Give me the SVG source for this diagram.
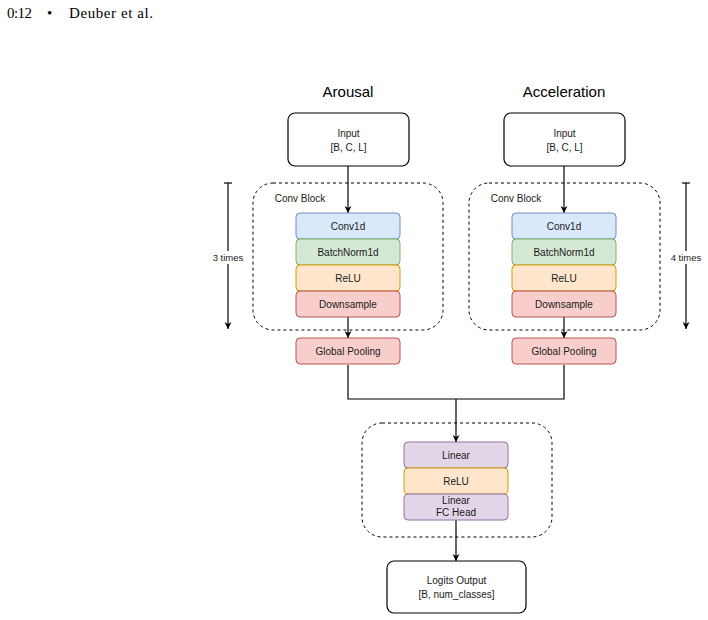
<svg xmlns="http://www.w3.org/2000/svg" width="708" height="620" viewBox="0 0 708 620">
<defs>
<style>
.t{font-family:"Liberation Sans",Arial,sans-serif;font-size:10px;fill:#1a1a1a;text-anchor:middle}
.title{font-family:"Liberation Sans",Arial,sans-serif;font-size:15px;fill:#000;text-anchor:middle}
.hdr{font-family:"Liberation Serif","Times New Roman",serif;font-size:15px;fill:#000}
.io{fill:#fff;stroke:#000;stroke-width:1.2}
.dash{fill:none;stroke:#000;stroke-width:1;stroke-dasharray:3,3}
.blue{fill:#dae8fc;stroke:#6c8ebf}
.green{fill:#d5e8d4;stroke:#82b366}
.orange{fill:#ffe6cc;stroke:#d79b00}
.red{fill:#f8cecc;stroke:#b85450}
.purple{fill:#e1d5e7;stroke:#9673a6}
.ln{fill:none;stroke:#000;stroke-width:1.2}
</style>
<marker id="arr" viewBox="0 0 10 10" refX="10" refY="5" markerWidth="7" markerHeight="7" markerUnits="userSpaceOnUse" orient="auto">
<path d="M0,0 L10,5 L0,10 L3,5 Z" fill="#000"/>
</marker>
</defs>
<rect width="708" height="620" fill="#fff"/>
<g id="header">
<text class="hdr" x="7" y="18" textLength="25">0:12</text>
<text class="hdr" x="47" y="18">•</text>
<text class="hdr" x="69" y="18" textLength="84">Deuber et al.</text>
</g>
<g id="titles">
<text class="title" x="348" y="97">Arousal</text>
<text class="title" x="564" y="97">Acceleration</text>
</g>
<g id="convblock-left">
<rect class="dash" x="253" y="183" width="190" height="147" rx="20"/>
<text class="t" x="300" y="202">Conv Block</text>
</g>
<g id="convblock-right">
<rect class="dash" x="469" y="183" width="191" height="147" rx="20"/>
<text class="t" x="516" y="202">Conv Block</text>
</g>
<g id="fc-block">
<rect class="dash" x="362" y="423" width="190" height="114" rx="20"/>
</g>
<g id="connectors">
<line class="ln" x1="348" y1="166" x2="348" y2="213" marker-end="url(#arr)"/>
<line class="ln" x1="564" y1="166" x2="564" y2="213" marker-end="url(#arr)"/>
<line class="ln" x1="348" y1="317" x2="348" y2="338" marker-end="url(#arr)"/>
<line class="ln" x1="564" y1="317" x2="564" y2="338" marker-end="url(#arr)"/>
<polyline class="ln" points="348,365 348,399 564,399 564,365"/>
<line class="ln" x1="456" y1="399" x2="456" y2="442" marker-end="url(#arr)"/>
<line class="ln" x1="456" y1="520" x2="456" y2="561" marker-end="url(#arr)"/>
<line class="ln" x1="228" y1="183" x2="228" y2="329" marker-end="url(#arr)"/>
<line class="ln" x1="224" y1="183" x2="232" y2="183"/>
<line class="ln" x1="686" y1="183" x2="686" y2="329" marker-end="url(#arr)"/>
<line class="ln" x1="682" y1="183" x2="690" y2="183"/>
</g>
<g id="repeat-left">
<rect x="211" y="251" width="34" height="13" fill="#fff"/>
<text class="t" x="228" y="261" style="font-size:9.5px">3 times</text>
</g>
<g id="repeat-right">
<rect x="669" y="251" width="34" height="13" fill="#fff"/>
<text class="t" x="686" y="261" style="font-size:9.5px">4 times</text>
</g>
<g id="input-left">
<rect class="io" x="288" y="113" width="121" height="53" rx="7"/>
<text class="t" x="348.5" y="137">Input</text>
<text class="t" x="348.5" y="151">[B, C, L]</text>
</g>
<g id="input-right">
<rect class="io" x="504" y="113" width="121" height="53" rx="7"/>
<text class="t" x="564.5" y="137">Input</text>
<text class="t" x="564.5" y="151">[B, C, L]</text>
</g>
<g id="conv1d-left"><rect class="blue" x="296" y="213" width="104" height="26" rx="4"/><text class="t" x="348" y="229.5">Conv1d</text></g>
<g id="bn-left"><rect class="green" x="296" y="239" width="104" height="26" rx="4"/><text class="t" x="348" y="255.5">BatchNorm1d</text></g>
<g id="relu-left"><rect class="orange" x="296" y="265" width="104" height="26" rx="4"/><text class="t" x="348" y="281.5">ReLU</text></g>
<g id="down-left"><rect class="red" x="296" y="291" width="104" height="26" rx="4"/><text class="t" x="348" y="307.5">Downsample</text></g>
<g id="conv1d-right"><rect class="blue" x="512" y="213" width="104" height="26" rx="4"/><text class="t" x="564" y="229.5">Conv1d</text></g>
<g id="bn-right"><rect class="green" x="512" y="239" width="104" height="26" rx="4"/><text class="t" x="564" y="255.5">BatchNorm1d</text></g>
<g id="relu-right"><rect class="orange" x="512" y="265" width="104" height="26" rx="4"/><text class="t" x="564" y="281.5">ReLU</text></g>
<g id="down-right"><rect class="red" x="512" y="291" width="104" height="26" rx="4"/><text class="t" x="564" y="307.5">Downsample</text></g>
<g id="gp-left"><rect class="red" x="296" y="338" width="104" height="26" rx="4"/><text class="t" x="348" y="354.5">Global Pooling</text></g>
<g id="gp-right"><rect class="red" x="512" y="338" width="104" height="26" rx="4"/><text class="t" x="564" y="354.5">Global Pooling</text></g>
<g id="linear1"><rect class="purple" x="404" y="442" width="104" height="26" rx="4"/><text class="t" x="456" y="458.5">Linear</text></g>
<g id="relu-fc"><rect class="orange" x="404" y="468" width="104" height="26" rx="4"/><text class="t" x="456" y="484.5">ReLU</text></g>
<g id="linear2"><rect class="purple" x="404" y="494" width="104" height="26" rx="4"/><text class="t" x="456" y="504">Linear</text><text class="t" x="456" y="516">FC Head</text></g>
<g id="logits">
<rect class="io" x="387" y="561" width="139" height="52" rx="7"/>
<text class="t" x="456.5" y="584">Logits Output</text>
<text class="t" x="456.5" y="597.5">[B, num_classes]</text>
</g>
</svg>
